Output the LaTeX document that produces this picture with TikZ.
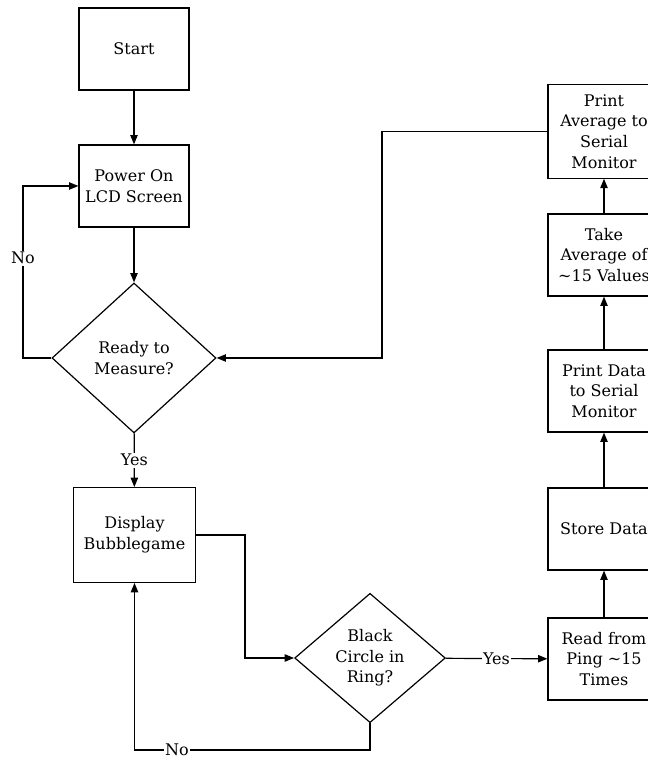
\documentclass[tikz,border=0pt]{standalone}
\usepackage{fontspec}
\setmainfont{DejaVu Serif}
\usepackage{tikz}
\usetikzlibrary{shapes.geometric,arrows.meta}

\begin{document}
\begin{tikzpicture}[x=0.75pt,y=0.75pt,line width=0.9pt,>={Triangle[length=7pt,width=5.5pt]},
  font=\fontsize{12}{15.5}\selectfont,
  stepbox/.style={draw,align=center,minimum width=82.5pt,minimum height=61.5pt,inner sep=2pt},
  sidebox/.style={draw,align=center,minimum width=84pt,minimum height=61.5pt,inner sep=2pt},
  ask/.style={draw,diamond,align=center,inner sep=0pt},
  lbl/.style={fill=white,inner sep=1pt}]
\useasboundingbox (0,0) rectangle (648,759);
\clip (0,0) rectangle (648,759);
\node[stepbox] (start) at (134,710) {Start};
\node[stepbox] (power) at (134,573) {Power On\\LCD Screen};
\node[ask,minimum width=123pt,minimum height=112.5pt] (ready) at (134,401) {Ready to\\Measure?};
\node[stepbox,minimum width=92pt,minimum height=71pt] (disp) at (134.5,224) {Display\\Bubblegame};
\node[ask,minimum width=113pt,minimum height=97pt] (black) at (370,101) {Black\\Circle in\\Ring?};
\node[sidebox] (read) at (604,100) {Read from\\Ping \textasciitilde15\\Times};
\node[sidebox] (store) at (604,230) {Store Data};
\node[sidebox] (printd) at (604,368) {Print Data\\to Serial\\Monitor};
\node[sidebox] (avg) at (604,504) {Take\\Average of\\\textasciitilde15 Values};
\node[sidebox,minimum height=70pt] (printavg) at (604,627.5) {Print\\Average to\\Serial\\Monitor};
\draw[->] (start) -- (power);
\draw[->] (power) -- (ready);
\draw[->] (ready.west) -- (23,401) |- node[lbl,pos=0.29] {No} (power.west);
\draw[->] (ready) -- node[lbl] {Yes} (disp);
\draw[->] (disp.east) -- (245,224) |- (black.west);
\draw[->] (black) -- node[lbl] {Yes} (read);
\draw[->] (black.south) -- (370,9) -| node[lbl,pos=0.41] {No} (disp.south);
\draw[->] (read) -- (store);
\draw[->] (store) -- (printd);
\draw[->] (printd) -- (avg);
\draw[->] (avg) -- (printavg);
\draw[->] (printavg.west) -- (382,627.5) |- (ready.east);
\end{tikzpicture}
\end{document}
